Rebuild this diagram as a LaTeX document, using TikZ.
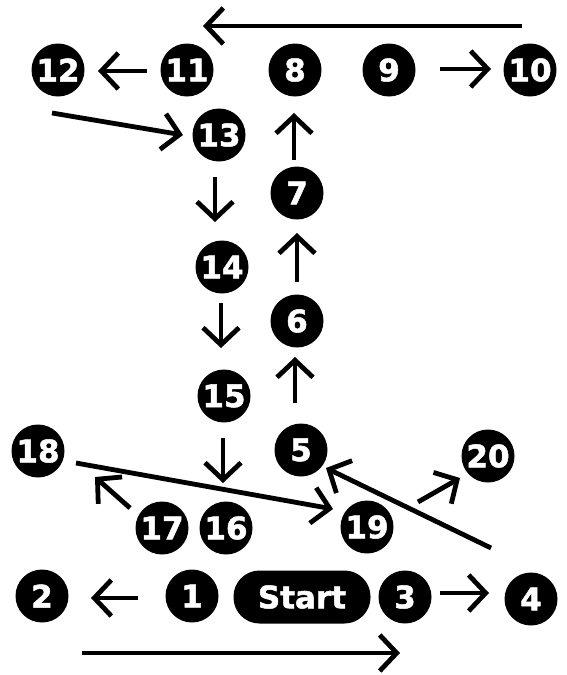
\documentclass[tikz,border=0pt]{standalone}
\usepackage{fontspec}
\newfontfamily\heavyfont[FakeBold=1.6]{DejaVu Sans Bold}
\usetikzlibrary{arrows.meta}
\tikzset{
  num/.style={circle, fill=black, minimum size=53pt, inner sep=0pt, text=white,
    font=\heavyfont\fontsize{31}{31}\selectfont},
  startbox/.style={rectangle, rounded corners=26pt, fill=black, minimum width=137pt,
    minimum height=53pt, inner sep=0pt, text=white,
    font=\heavyfont\fontsize{31}{31}\selectfont},
  arr/.style={line width=4.8pt, -{Straight Barb[length=17pt,width=36pt]}}
}
\begin{document}
\begin{tikzpicture}[x=1pt,y=-1pt]
\useasboundingbox (0,0) rectangle (566,675);
% nodes
\node[num] (n12) at (58,70) {12};
\node[num] (n11) at (187,70) {11};
\node[num] (n8) at (295,70) {8};
\node[num] (n9) at (389,70) {9};
\node[num] (n10) at (530,70) {10};
\node[num] (n13) at (219,135) {13};
\node[num] (n7) at (297,193) {7};
\node[num] (n14) at (222,267) {14};
\node[num] (n6) at (297,321) {6};
\node[num] (n15) at (224,396) {15};
\node[num] (n5) at (301,450) {5};
\node[num] (n18) at (38,451) {18};
\node[num] (n20) at (488,456) {20};
\node[num] (n17) at (162,528) {17};
\node[num] (n16) at (226,528) {16};
\node[num] (n19) at (367,527) {19};
\node[num] (n2) at (42,596) {2};
\node[num] (n1) at (192,596) {1};
\node[startbox] (st) at (302,597) {Start};
\node[num] (n3) at (405,597) {3};
\node[num] (n4) at (531,599) {4};
% connectors
\draw[arr] ([shift={(-8,-44)}]n10.center) -- ([shift={(16,-44)}]n11.center);
\draw[arr] ([shift={(-40,1)}]n11.center) -- ([shift={(40,1)}]n12.center);
\draw[arr] ([shift={(51,-1)}]n9.center) -- ([shift={(-39,-1)}]n10.center);
\draw[arr] ([shift={(-6,43)}]n12.center) -- ([shift={(-36,0)}]n13.center);
\draw[arr] ([shift={(-3,-33)}]n7.center) -- ([shift={(-1,43)}]n8.center);
\draw[arr] ([shift={(-4,42)}]n13.center) -- ([shift={(-7,-45)}]n14.center);
\draw[arr] ([shift={(0,-39)}]n6.center) -- ([shift={(0,40)}]n7.center);
\draw[arr] ([shift={(-1,36)}]n14.center) -- ([shift={(-3,-48)}]n15.center);
\draw[arr] ([shift={(-6,-47)}]n5.center) -- ([shift={(-2,36)}]n6.center);
\draw[arr] ([shift={(-1,42)}]n15.center) -- ([shift={(-3,-45)}]n16.center);
\draw[arr] ([shift={(-32,-20)}]n17.center) -- ([shift={(57,26)}]n18.center);
\draw[arr] ([shift={(38,12)}]n18.center) -- ([shift={(-34,-18)}]n19.center);
\draw[arr] ([shift={(51,-25)}]n19.center) -- ([shift={(-28,22)}]n20.center);
\draw[arr] ([shift={(-40,-51)}]n4.center) -- ([shift={(25,18)}]n5.center);
\draw[arr] ([shift={(-54,2)}]n1.center) -- ([shift={(49,2)}]n2.center);
\draw[arr] ([shift={(35,-4)}]n3.center) -- ([shift={(-42,-6)}]n4.center);
\draw[arr] ([shift={(40,57)}]n2.center) -- ([shift={(-5,56)}]n3.center);
\end{tikzpicture}
\end{document}
